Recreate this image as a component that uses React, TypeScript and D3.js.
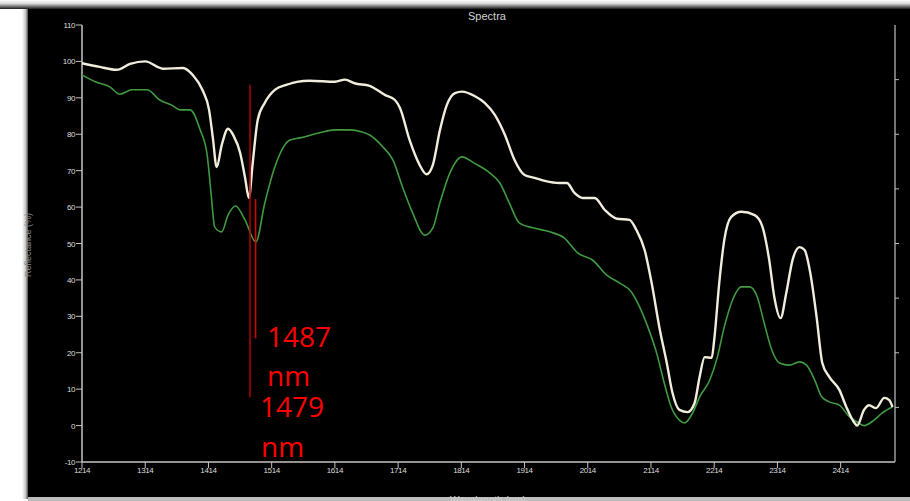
import React from "react";
import * as d3 from "d3";

const W = 910;
const H = 501;

const whiteWl = [1214,1242,1269,1290,1314,1342,1374,1389,1405,1415,1421,1427,1435,1445,1454,1464,1472,1478,1484,1492,1503,1519,1538,1554,1574,1614,1630,1645,1669,1693,1709,1717,1732,1748,1759,1769,1780,1791,1804,1815,1835,1851,1867,1883,1898,1914,1930,1946,1969,1981,1993,2006,2025,2041,2060,2080,2091,2104,2115,2128,2139,2148,2159,2172,2183,2191,2199,2210,2214,2222,2230,2241,2257,2278,2290,2301,2309,2319,2328,2338,2349,2357,2366,2376,2385,2396,2412,2423,2436,2440,2451,2459,2470,2483,2491,2496];
const whiteVal = [99.5,98.5,97.7,99.3,100,98,98.2,96.3,92,86.7,79,71,77,81.5,79.5,75,68,62.5,72,84,88.6,92.2,93.6,94.4,94.7,94.4,95,94,93.3,90.8,89.4,87.2,78.5,71.6,69,71.6,81,88,91.3,91.7,90.5,88.6,85.3,79.8,73,68.8,68,67.2,66.6,66.6,63.9,62.5,62.5,59.2,56.8,56.5,53.7,48.2,39.2,26.3,17.2,9,4.3,3.7,6.2,13.4,18.8,18.6,23.5,39.2,51,57.3,58.7,57.8,54.8,45.5,35.4,29.5,36.4,45.5,49,48.2,41.9,29.8,17.2,13.4,9.8,5.1,0.7,0,4.3,5.6,4.8,7.6,7,5.1];

const greenWl = [1214,1235,1258,1274,1293,1317,1337,1356,1369,1385,1401,1412,1418,1424,1435,1445,1457,1472,1489,1503,1519,1543,1559,1590,1614,1638,1657,1669,1690,1706,1721,1737,1756,1769,1780,1796,1815,1835,1859,1875,1890,1906,1927,1954,1977,1998,2022,2044,2064,2083,2096,2109,2123,2135,2146,2159,2167,2180,2191,2207,2219,2230,2243,2257,2270,2282,2293,2305,2317,2333,2349,2360,2373,2384,2396,2412,2428,2440,2451,2467,2480,2496];
const greenVal = [96.3,94.4,93,91,92.2,92.2,89.4,88,86.7,86.7,81.2,74.3,64,54.5,53.2,57.8,60.3,56.4,50.4,61,71,78.4,79,80.4,81.2,81.2,80.6,79.8,76.5,72.9,65.5,58.4,52.3,54.3,61.1,69.4,73.8,72,69.4,66.6,61.1,55.6,54.3,53.2,51.5,47.4,45.4,41.3,39.2,36.7,32.6,27.1,19.9,11.7,5.1,1.5,0.7,3.5,7.9,12.5,18.8,27.1,34.5,38.1,38.1,35.4,28.2,20.8,17.2,16.6,17.5,16.6,12.5,7.9,6.5,5.6,2.4,1,0,1.5,3.5,5.1];

const xTicks = [1214,1314,1414,1514,1614,1714,1814,1914,2014,2114,2214,2314,2414];
const yTicks = [-10,0,10,20,30,40,50,60,70,80,90,100,110];
const rightTicks = [1,2,3,4,5,6,7];

// annotation markers: wavelength, top value, bottom value, label
const markerWl = [1479, 1487];
const markerTop = [93.5, 62.2];
const markerBottom = [7.8, 24];
const markerLabels = ["1479", "1487"];

export default function App() {
  const x = d3.scaleLinear().domain([1214, 2500]).range([82, 895]);
  const y = d3.scaleLinear().domain([-10, 110]).range([462, 25]);
  const yR = d3.scaleLinear().domain([0, 8]).range([462, 25]);

  const line = d3
    .line<[number, number]>()
    .x((d) => x(d[0]))
    .y((d) => y(d[1]))
    .curve(d3.curveMonotoneX);

  const whitePts = whiteWl.map((w, i) => [w, whiteVal[i]] as [number, number]);
  const greenPts = greenWl.map((w, i) => [w, greenVal[i]] as [number, number]);

  const axisCol = "#c4c4c4";
  const tickFont = "Liberation Sans, Arial, sans-serif";

  return (
    <svg
      width={W}
      height={H}
      style={{ position: "absolute", left: 0, top: 0, display: "block" }}
    >
      <defs>
        <linearGradient id="topg" x1="0" y1="0" x2="0" y2="1">
          <stop offset="0" stopColor="#ffffff" />
          <stop offset="0.4" stopColor="#d8d8d8" />
          <stop offset="1" stopColor="#1a1a1a" />
        </linearGradient>
        <linearGradient id="leftg" x1="0" y1="0" x2="1" y2="0">
          <stop offset="0" stopColor="#ffffff" />
          <stop offset="0.5" stopColor="#c8c8c8" />
          <stop offset="1" stopColor="#202020" />
        </linearGradient>
      </defs>
      <rect x={0} y={0} width={W} height={H} fill="#ffffff" />
      <rect x={0} y={0} width={W} height={9} fill="url(#topg)" />
      <rect x={22} y={9} width={7} height={490} fill="url(#leftg)" />
      <rect x={28} y={9} width={W - 28} height={489} fill="#000000" />
      <rect x={28} y={497} width={W - 28} height={4} fill="#bdbdbd" />

      {/* title */}
      <text
        x={487}
        y={20}
        textAnchor="middle"
        fontFamily={tickFont}
        fontSize={11}
        fill="#d0d0d0"
      >
        Spectra
      </text>

      {/* left axis */}
      <line x1={82} x2={82} y1={y(110)} y2={y(-10)} stroke={axisCol} strokeWidth={1.5} />
      {yTicks.map((t) => (
        <g key={"yt" + t}>
          <line x1={76} x2={82} y1={y(t)} y2={y(t)} stroke={axisCol} strokeWidth={1} />
          <text
            x={75}
            y={y(t) + 3}
            textAnchor="end"
            fontFamily={tickFont}
            fontSize={8}
            letterSpacing={-0.4}
            fill="#dcdcdc"
          >
            {t}
          </text>
        </g>
      ))}

      {/* bottom axis */}
      <line x1={82} x2={895} y1={y(-10)} y2={y(-10)} stroke={axisCol} strokeWidth={1.5} />
      {xTicks.map((t) => (
        <g key={"xt" + t}>
          <line x1={x(t)} x2={x(t)} y1={462} y2={468} stroke={axisCol} strokeWidth={1} />
          <text
            x={x(t)}
            y={473}
            textAnchor="middle"
            fontFamily={tickFont}
            fontSize={8}
            letterSpacing={-0.4}
            fill="#dcdcdc"
          >
            {t}
          </text>
        </g>
      ))}

      {/* right axis */}
      <line x1={895} x2={895} y1={yR(8)} y2={yR(0)} stroke="#9a9a9a" strokeWidth={1.5} />
      {rightTicks.map((t) => (
        <line key={"rt" + t} x1={895} x2={899} y1={yR(t)} y2={yR(t)} stroke="#bbbbbb" strokeWidth={1} />
      ))}

      {/* axis titles */}
      <text
        transform={`translate(31,245) rotate(-90)`}
        textAnchor="middle"
        fontFamily={tickFont}
        fontSize={9}
        fill="#8a8a8a"
      >
        Reflectance (%)
      </text>
      <text
        x={488}
        y={504}
        textAnchor="middle"
        fontFamily={tickFont}
        fontSize={10}
        fill="#cfcfcf"
      >
        Wavelength (nm)
      </text>

      {/* spectra */}
      <path d={line(greenPts) || ""} fill="none" stroke="#3f9a40" strokeWidth={1.6} />
      <path d={line(whitePts) || ""} fill="none" stroke="#f2ecdc" strokeWidth={2.4} />

      {/* markers */}
      {markerWl.map((w, i) => (
        <line
          key={"m" + i}
          x1={x(w) + (i === 0 ? 0.5 : 1)}
          x2={x(w) + (i === 0 ? 0.5 : 1)}
          y1={y(markerTop[i])}
          y2={y(markerBottom[i])}
          stroke={i === 0 ? "#b30000" : "#e00000"}
          strokeWidth={1.5}
        />
      ))}

      {/* labels */}
      <g fontFamily="'Open Sans', 'Noto Sans', sans-serif" fontSize={28} fill="#ff0000">
        <text x={267} y={347}>{markerLabels[1]}</text>
        <text x={267} y={386}>nm</text>
        <text x={260} y={417}>{markerLabels[0]}</text>
        <text x={261} y={457}>nm</text>
      </g>
    </svg>
  );
}
